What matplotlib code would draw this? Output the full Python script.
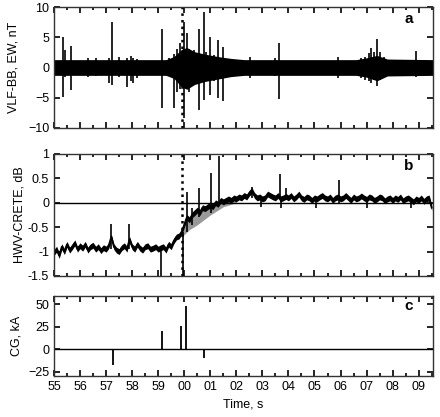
import numpy as np
import matplotlib
matplotlib.use("Agg")
import matplotlib.pyplot as plt
from matplotlib.ticker import MultipleLocator, FuncFormatter

plt.rcParams['font.family'] = ['Liberation Sans', 'DejaVu Sans']

# ---------------- data ----------------
# time axis: seconds, 55..69.55 (labels shown modulo 60)
t_start, t_end = 55.0, 69.55
event_t = 59.93

# panel a: VLF-BB background band envelope and spikes
a_band_t = [55.0, 59.3, 59.6, 59.9, 60.1, 60.4, 60.8, 61.3, 61.8, 62.3, 66.6, 67.0, 67.4, 67.8, 69.55]
a_band_hi = [1.3, 1.3, 1.8, 3.0, 3.3, 2.6, 2.2, 1.8, 1.5, 1.3, 1.3, 1.6, 2.0, 1.4, 1.3]
a_band_lo = [-1.3, -1.3, -1.8, -3.2, -3.6, -2.8, -2.3, -1.9, -1.5, -1.3, -1.3, -1.6, -2.2, -1.4, -1.3]
a_spike_t = [55.35, 55.42, 55.65, 56.3, 56.6, 57.1, 57.24, 57.5, 57.8, 57.95, 58.05, 58.2,
             59.13, 59.4, 59.6, 59.74, 59.85, 60.0, 60.09, 60.2, 60.38, 60.55, 60.74, 60.85,
             60.99, 61.15, 61.3, 61.5, 62.54, 63.5, 63.65, 65.9, 66.8, 66.95, 67.1, 67.18,
             67.3, 67.4, 67.5, 67.65, 68.9]
a_spike_hi = [5.0, 2.9, 3.5, 1.6, 1.6, 1.5, 7.6, 1.8, 1.6, 1.9, 1.5, 1.4,
              6.3, 1.5, 2.2, 3.0, 4.0, 7.5, 5.7, 3.0, 2.9, 6.3, 9.1, 2.5,
              5.1, 2.0, 4.5, 3.4, 1.8, 1.6, 4.0, 1.8, 1.6, 1.8, 2.4, 3.2,
              2.6, 4.7, 2.5, 1.8, 2.8]
a_spike_lo = [-4.8, -1.5, -3.7, -1.5, -1.4, -2.5, -2.9, -1.5, -3.2, -2.2, -2.5, -1.8,
              -6.7, -1.4, -6.7, -4.0, -3.5, -8.4, -3.0, -4.0, -2.6, -7.0, -5.4, -2.0,
              -4.5, -2.3, -5.0, -5.6, -1.8, -1.4, -5.2, -1.8, -1.8, -2.0, -2.3, -2.5,
              -2.0, -3.1, -2.0, -1.5, -1.5]

# panel b: HWV-CRETE amplitude, 0.1 s samples from 55.0 to 69.5
b_values = [
    -1.02, -0.95, -1.08, -0.90, -1.00, -0.85, -0.97, -0.90, -0.82, -0.95,
    -0.88, -0.93, -0.85, -0.97, -0.90, -0.87, -0.95, -0.90, -0.98, -0.92,
    -0.95, -0.88, -0.70, -0.90, -0.97, -1.00, -0.92, -0.88, -0.95, -0.75,
    -0.90, -0.95, -0.85, -0.93, -0.97, -0.90, -0.88, -0.95, -0.93, -0.90,
    -0.95, -0.92, -0.90, -0.97, -0.85, -0.90, -0.78, -0.70, -0.68, -0.60,
    -0.45, -0.30, -0.35, -0.25, -0.20, -0.15, -0.20, -0.10, -0.12, -0.08,
    -0.05, -0.08, 0.00, -0.03, 0.05, 0.02, 0.05, 0.08, 0.05, 0.10,
    0.08, 0.12, 0.10, 0.15, 0.12, 0.20, 0.25, 0.15, 0.10, 0.12,
    0.08, 0.10, 0.18, 0.15, 0.12, 0.10, 0.15, 0.08, 0.10, 0.13,
    0.10, 0.15, 0.08, 0.12, 0.18, 0.10, 0.07, 0.12, 0.10, 0.05,
    0.10, 0.08, 0.12, 0.15, 0.10, 0.08, 0.12, 0.05, 0.10, 0.12,
    0.08, 0.10, 0.15, 0.10, 0.05, 0.12, 0.08, 0.10, 0.14, 0.10,
    0.07, 0.12, 0.10, 0.05, 0.08, 0.12, 0.10, 0.04, 0.08, 0.10,
    0.05, 0.10, 0.07, 0.12, 0.04, 0.08, 0.10, 0.06, 0.02, 0.08,
    0.05, 0.10, 0.03, 0.08, 0.10, -0.10,
]
b_times = [55.0 + 0.1 * i for i in range(len(b_values))]
b_noise_halfwidth = 0.06
b_spike_t = [57.2, 57.88, 59.12, 59.95, 60.1, 60.3, 60.58, 61.03, 61.32, 62.6, 62.95,
             63.68, 63.72, 63.9, 65.07, 65.96, 67.0, 68.7]
b_spike_lo = [-0.95, -0.95, -1.5, -1.5, -0.6, -0.45, -0.3, -0.2, -0.05, 0.1, -0.08,
              0.1, -0.1, 0.1, -0.1, 0.0, -0.1, -0.1]
b_spike_hi = [-0.44, -0.44, -0.95, -0.6, 0.22, -0.1, 0.3, 0.62, 0.96, 0.33, 0.1,
              0.6, 0.1, 0.3, 0.1, 0.47, 0.1, 0.1]
b_grey_t = [59.9, 60.2, 60.5, 61.0, 61.5, 62.0]
b_grey_lo = [-0.7, -0.55, -0.45, -0.25, -0.08, 0.0]
b_grey_hi = [-0.55, -0.3, -0.2, -0.05, 0.05, 0.1]

# panel c: CG lightning strokes (time, peak current kA)
c_t = [57.27, 59.15, 59.88, 60.05, 60.75]
c_kA = [-18, 20, 26, 48, -10]

# ---------------- figure ----------------
fig = plt.figure(figsize=(4.40, 4.17), dpi=100)
W, H = 440, 417
def rect(l, t, r, b):
    return [l / W, 1 - b / H, (r - l) / W, (b - t) / H]

ax_a = fig.add_axes(rect(54, 7, 433, 128))
ax_b = fig.add_axes(rect(54, 154, 433, 276))
ax_c = fig.add_axes(rect(54, 296, 433, 376))

fs = 9
for ax in (ax_a, ax_b, ax_c):
    ax.set_xlim(t_start, t_end)
    ax.xaxis.set_major_locator(MultipleLocator(1))
    ax.xaxis.set_minor_locator(MultipleLocator(0.5))
    ax.tick_params(which='both', direction='in', top=True, right=True, labelsize=fs, width=1.2)
    ax.tick_params(which='major', length=4)
    ax.tick_params(which='minor', length=2)
    for s in ax.spines.values():
        s.set_linewidth(1.0)
        s.set_color('0.2')

# panel a
ax_a.fill_between(a_band_t, a_band_lo, a_band_hi, color='black', lw=0)
ax_a.vlines(a_spike_t, a_spike_lo, a_spike_hi, color='black', lw=1.2)
ax_a.axvline(event_t, color='black', ls=':', lw=1.8)
ax_a.set_ylim(-10, 10)
ax_a.yaxis.set_major_locator(MultipleLocator(5))
ax_a.set_xticklabels([])
ax_a.set_ylabel('VLF-BB, EW, nT', fontsize=fs, labelpad=6)
ax_a.text(0.935, 0.9, 'a', transform=ax_a.transAxes, fontsize=11, fontweight='bold', ha='center', va='center')

# panel b
ax_b.fill_between(b_grey_t, b_grey_lo, b_grey_hi, color='0.6', lw=0)
ax_b.axhline(0, color='black', lw=1.0)
bv = np.array(b_values)
ax_b.fill_between(b_times, bv - b_noise_halfwidth, bv + b_noise_halfwidth, color='black', lw=0)
ax_b.plot(b_times, b_values, color='black', lw=1.3)
ax_b.vlines(b_spike_t, b_spike_lo, b_spike_hi, color='black', lw=1.2)
ax_b.axvline(event_t, color='black', ls=':', lw=1.8)
ax_b.set_ylim(-1.5, 1)
ax_b.yaxis.set_major_locator(MultipleLocator(0.5))
ax_b.yaxis.set_major_formatter(FuncFormatter(lambda v, p: ('%g' % v)))
ax_b.set_xticklabels([])
ax_b.set_ylabel('HWV-CRETE, dB', fontsize=fs, labelpad=2)
ax_b.text(0.935, 0.9, 'b', transform=ax_b.transAxes, fontsize=11, fontweight='bold', ha='center', va='center')

# panel c
ax_c.axhline(0, color='black', lw=1.0)
ax_c.vlines(c_t, 0, c_kA, color='black', lw=1.3)
ax_c.set_ylim(-30, 59)
ax_c.yaxis.set_major_locator(MultipleLocator(25))
ax_c.xaxis.set_major_formatter(FuncFormatter(lambda v, p: '%02d' % (int(round(v)) % 60)))
ax_c.set_ylabel('CG, kA', fontsize=fs, labelpad=4)
ax_c.set_xlabel('Time, s', fontsize=fs, labelpad=4)
ax_c.text(0.935, 0.87, 'c', transform=ax_c.transAxes, fontsize=11, fontweight='bold', ha='center', va='center')

fig.align_ylabels([ax_a, ax_b, ax_c])
fig.savefig('out.png', dpi=100)
